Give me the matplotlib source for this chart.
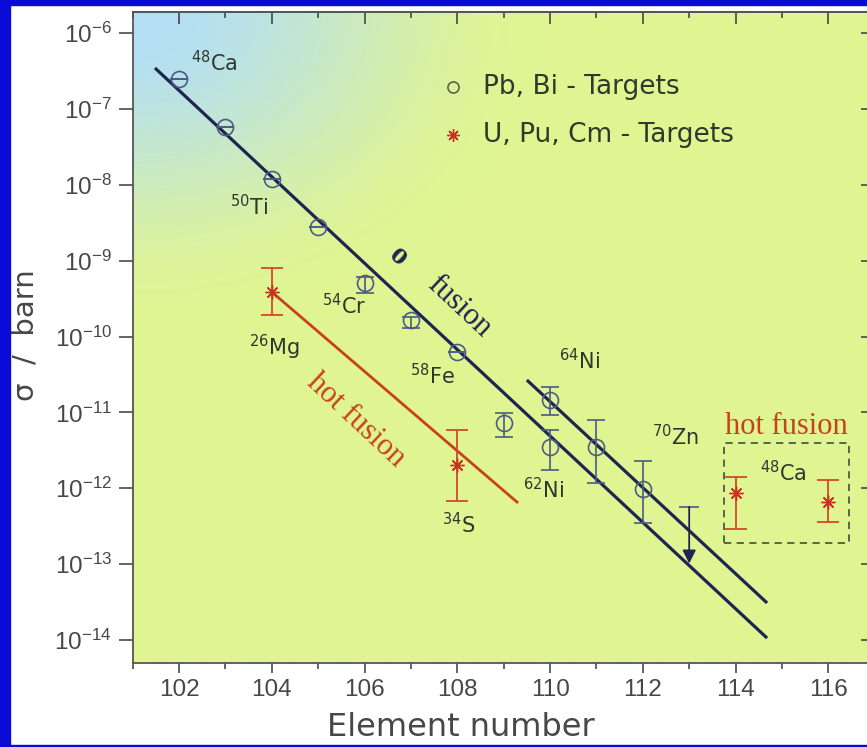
import numpy as np
import matplotlib
matplotlib.use("Agg")
import matplotlib.pyplot as plt
from matplotlib import font_manager
from matplotlib.patches import Rectangle
from matplotlib.ticker import MultipleLocator, LogLocator, NullLocator, NullFormatter

# ---- cold fusion, Pb / Bi targets -------------------------------------
cold_z = [102, 103, 104, 105, 106, 107, 108, 109, 110, 110, 111, 112]
cold_sigma = [2.5e-7, 5.8e-8, 1.2e-8, 2.8e-9, 5.1e-10, 1.65e-10, 6.3e-11,
              7.3e-12, 1.46e-11, 3.5e-12, 3.5e-12, 9.8e-13]
cold_upper = [2.5e-7, 5.8e-8, 1.2e-8, 2.8e-9, 6.1e-10, 1.8e-10, 6.3e-11,
              9.8e-12, 2.16e-11, 5.9e-12, 7.9e-12, 2.3e-12]
cold_lower = [2.5e-7, 5.8e-8, 1.2e-8, 2.8e-9, 3.7e-10, 1.3e-10, 6.3e-11,
              4.7e-12, 9.2e-12, 1.74e-12, 1.17e-12, 3.5e-13]

# upper limit (element 113, 70Zn)
limit_z = [113]
limit_sigma = [5.7e-13]

# ---- hot fusion, U / Pu / Cm targets -----------------------------------
hot_z = [104, 108, 114, 116]
hot_sigma = [3.9e-10, 2.0e-12, 8.6e-13, 6.6e-13]
hot_upper = [8.0e-10, 5.9e-12, 1.4e-12, 1.3e-12]
hot_lower = [1.9e-10, 6.8e-13, 2.9e-13, 3.6e-13]

# ---- systematics lines --------------------------------------------------
cold_fit_z = [101.48, 114.68]
cold_fit_sigma = [3.46e-7, 1.06e-14]
ni64_fit_z = [109.5, 114.68]
ni64_fit_sigma = [2.67e-11, 3.08e-14]
hot_fit_z = [104.0, 109.31]
hot_fit_sigma = [3.86e-10, 6.4e-13]

# 48Ca hot fusion group
box_z = [113.75, 116.45]
box_sigma = [1.9e-13, 3.98e-12]

x_ticks = [102, 104, 106, 108, 110, 112, 114, 116]

# ---- fonts ---------------------------------------------------------------
available = {f.name for f in font_manager.fontManager.ttflist}
if 'Liberation Sans Narrow' in available:
    TICK_FONT, TICK_SIZE = 'Liberation Sans Narrow', 18
elif 'Liberation Sans' in available:
    TICK_FONT, TICK_SIZE = 'Liberation Sans', 17.5
else:
    TICK_FONT, TICK_SIZE = 'DejaVu Sans', 16
SERIF = 'Liberation Serif' if 'Liberation Serif' in available else 'DejaVu Serif'
plt.rcParams['font.family'] = [TICK_FONT, 'DejaVu Sans']
plt.rcParams['mathtext.fontset'] = 'custom'
plt.rcParams['mathtext.rm'] = TICK_FONT
plt.rcParams['mathtext.it'] = TICK_FONT
plt.rcParams['mathtext.default'] = 'regular'

NAVY = '#1d2552'
SLATE = '#4c5b84'
RED = '#d4492c'
RED_DARK = '#cc3020'
LABEL = '#2e372e'
TICK = '#3a3a3a'
TEXT_GREY = '#474747'

W, H = 867, 747
fig = plt.figure(figsize=(W / 100, H / 100), dpi=100, facecolor='white')

left_px, right_px, top_px, bottom_px = 132.7, 868.0, 11.7, 663.0
pos = [left_px / W, (H - bottom_px) / H, (right_px - left_px) / W, (bottom_px - top_px) / H]

# gradient backdrop of the plotting area
bg = fig.add_axes(pos, zorder=-1)
gw, gh = 360, 320
u = np.linspace(0, 1, gw)[None, :]
v = np.linspace(0, 1, gh)[:, None]
px = u * (right_px - left_px)
py = v * (bottom_px - top_px)
d = np.sqrt((px / 410.0) ** 2 + (py / 310.0) ** 2)
t = np.clip((d - 0.04) / 0.96, 0, 1)
t = t * t * (3 - 2 * t)
c0 = np.array([180, 223, 244]) / 255.0
c1 = np.array([224, 245, 146]) / 255.0
img = c0[None, None, :] * (1 - t[..., None]) + c1[None, None, :] * t[..., None]
bg.imshow(img, extent=[0, 1, 0, 1], aspect='auto', origin='upper', interpolation='bicubic')
bg.set_axis_off()

ax = fig.add_axes(pos)
ax.set_facecolor('none')
ax.set_yscale('log')
ax.set_xlim(101.0, 116.856)
ax.set_ylim(10 ** -14.303, 10 ** -5.719)

# systematics lines
ax.plot(cold_fit_z, cold_fit_sigma, color=NAVY, lw=2.3, solid_capstyle='butt', zorder=3)
ax.plot(ni64_fit_z, ni64_fit_sigma, color=NAVY, lw=2.3, solid_capstyle='butt', zorder=3)
ax.plot(hot_fit_z, hot_fit_sigma, color='#c8401e', lw=2.0, solid_capstyle='butt', zorder=3)

# cold fusion data
cs = np.array(cold_sigma)
cold_err = [cs - np.array(cold_lower), np.array(cold_upper) - cs]
ax.errorbar(cold_z, cold_sigma, yerr=cold_err, fmt='o', ms=11.5, mfc='none',
            mec=SLATE, mew=1.2, ecolor=SLATE, elinewidth=1.2, capsize=6.5,
            capthick=1.2, zorder=4)

# upper limit with arrow
for z, s in zip(limit_z, limit_sigma):
    ax.plot([z], [s], marker='_', ms=14, mew=1.2, color=SLATE, zorder=4)
    ax.annotate('', xy=(z, s / 5.6), xytext=(z, s),
                arrowprops=dict(arrowstyle='-|>', color=NAVY, lw=1.3,
                                mutation_scale=20, shrinkA=0, shrinkB=0),
                zorder=4)

# hot fusion data
hs = np.array(hot_sigma)
hot_err = [hs - np.array(hot_lower), np.array(hot_upper) - hs]
ax.errorbar(hot_z, hot_sigma, yerr=hot_err, fmt='none', ecolor=RED,
            elinewidth=1.3, capsize=8, capthick=1.3, zorder=4)
ax.plot(hot_z, hot_sigma, linestyle='none', marker=(8, 2, 0), ms=10, mew=1.0,
        color=RED_DARK, zorder=5)

# dashed box around the 48Ca hot fusion points
ax.add_patch(Rectangle((box_z[0], box_sigma[0]), box_z[1] - box_z[0],
                       box_sigma[1] - box_sigma[0], fill=False,
                       edgecolor='#4d5a45', lw=1.3, ls=(0, (4, 3)), zorder=3))

# projectile labels
def nucl(z, s, mass, sym, size=15):
    ax.text(z, s, r'$^{%s}$%s' % (mass, sym), ha='center', va='center',
            fontsize=size, color=LABEL, family=['DejaVu Sans'], zorder=6)

plt.rcParams['mathtext.rm'] = 'DejaVu Sans'
nucl(102.77, 10 ** -6.395, 48, 'Ca')
nucl(103.51, 10 ** -8.293, 50, 'Ti')
nucl(105.56, 10 ** -9.598, 54, 'Cr')
nucl(104.05, 10 ** -10.15, 26, 'Mg')
nucl(107.47, 10 ** -10.52, 58, 'Fe')
nucl(110.64, 10 ** -10.32, 64, 'Ni')
nucl(109.85, 10 ** -12.02, 62, 'Ni')
nucl(112.71, 10 ** -11.32, 70, 'Zn')
nucl(108.04, 10 ** -12.48, 34, 'S')
nucl(115.04, 10 ** -11.80, 48, 'Ca')

ax.text(106.74, 10 ** -8.95, 'o', family=SERIF, fontsize=22, fontweight='bold',
        color=NAVY, rotation=-42, ha='center', va='center', zorder=6)
ax.text(108.04, 10 ** -9.61, 'fusion', family=SERIF, fontsize=22, color=NAVY,
        rotation=-43, rotation_mode='anchor', ha='center', va='center', zorder=6)
ax.text(105.82, 10 ** -11.11, 'hot fusion', family=SERIF, fontsize=22, color='#c8401e',
        rotation=-43, rotation_mode='anchor', ha='center', va='center', zorder=6)
ax.text(115.09, 10 ** -11.18, 'hot fusion', family=SERIF, fontsize=22, color='#c8401e',
        ha='center', va='center', zorder=6)

# key
ax.plot([0.4356], [0.8844], transform=ax.transAxes, marker='o', ms=8, mfc='none',
        mec='#5a6250', mew=1.2, linestyle='none')
ax.plot([0.4356], [0.8100], transform=ax.transAxes, marker=(8, 2, 0), ms=9, mew=1.0,
        color=RED_DARK, linestyle='none')
ax.text(0.476, 0.8844, 'Pb, Bi - Targets', transform=ax.transAxes, fontsize=19,
        color='#2e3a2a', va='center', ha='left', family=['DejaVu Sans'])
ax.text(0.476, 0.8100, 'U, Pu, Cm - Targets', transform=ax.transAxes, fontsize=19,
        color='#2e3a2a', va='center', ha='left', family=['DejaVu Sans'])

# axes and ticks
plt.rcParams['mathtext.rm'] = TICK_FONT
for sp in ax.spines.values():
    sp.set_color('#555555')
    sp.set_linewidth(1.3)
ax.set_xticks(x_ticks)
ax.set_xticklabels([str(v) for v in x_ticks])
ax.xaxis.set_minor_locator(MultipleLocator(1))
ax.yaxis.set_major_locator(LogLocator(base=10, numticks=20))
ax.yaxis.set_minor_locator(NullLocator())
ax.tick_params(axis='x', which='major', direction='out', length=7.5, width=1.1,
               color=TICK, labelcolor=TEXT_GREY, labelsize=TICK_SIZE, pad=4)
ax.tick_params(axis='x', which='minor', direction='out', length=4, width=1.1, color=TICK)
ax.tick_params(axis='y', which='major', direction='out', length=10, width=1.1,
               color=TICK, labelcolor=TEXT_GREY, labelsize=TICK_SIZE, pad=5)
for lab in ax.get_xticklabels() + ax.get_yticklabels():
    lab.set_family([TICK_FONT, 'DejaVu Sans'])

top = ax.secondary_xaxis('top')
top.xaxis.set_major_locator(MultipleLocator(2))
top.xaxis.set_minor_locator(MultipleLocator(1))
top.xaxis.set_major_formatter(NullFormatter())
top.tick_params(which='major', direction='in', length=8.5, width=1.1, color=TICK)
top.tick_params(which='minor', direction='in', length=4.5, width=1.1, color=TICK)
top.spines['top'].set_color('#555555')
top.spines['top'].set_linewidth(1.3)

right = ax.secondary_yaxis('right')
right.yaxis.set_major_locator(LogLocator(base=10, numticks=20))
right.yaxis.set_minor_locator(NullLocator())
right.yaxis.set_major_formatter(NullFormatter())
right.tick_params(which='major', direction='in', length=5, width=1.1, color=TICK)

# axis titles
fig.text(461 / W, 1 - 728 / H, 'Element number', fontsize=23, color=TEXT_GREY,
         ha='center', va='center', family=['DejaVu Sans'], zorder=5)
fig.text(26 / W, 1 - 335 / H, 'σ  /  barn', fontsize=21, color=TEXT_GREY, rotation=90,
         ha='center', va='center', family=['DejaVu Sans'], zorder=5)

# blue frame
frame = '#0a0ad6'
fig.add_artist(Rectangle((0, 0), 10 / W, 1, transform=fig.transFigure, color=frame, zorder=20))
fig.add_artist(Rectangle((0, 1 - 5 / H), 1, 5 / H, transform=fig.transFigure, color=frame, zorder=20))
fig.add_artist(Rectangle((0, 0), 1, 2.5 / H, transform=fig.transFigure, color=frame, zorder=20))

fig.savefig('out.png', dpi=100, facecolor='white')
